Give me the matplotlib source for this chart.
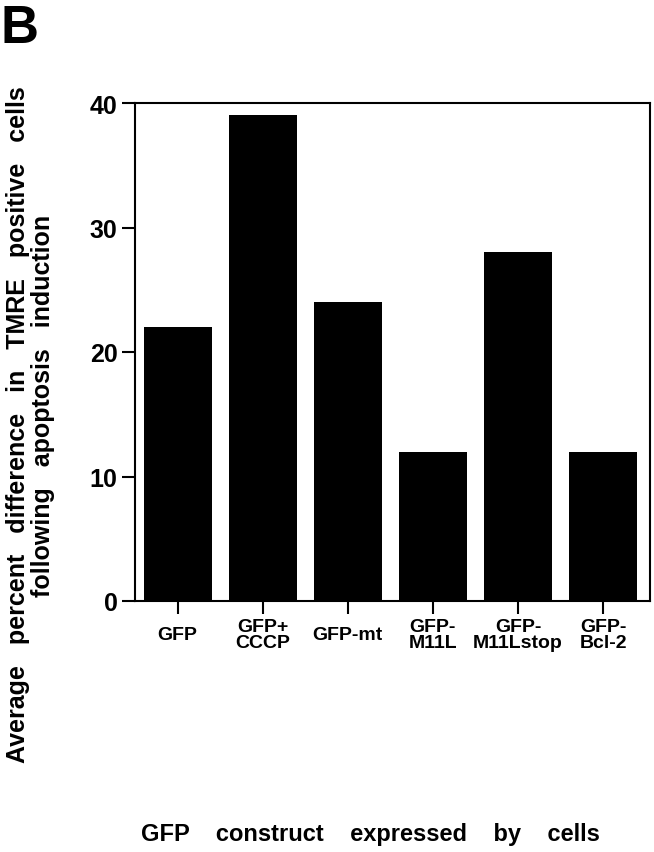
import matplotlib.pyplot as plt

plt.rcParams["font.family"] = ["Liberation Sans", "DejaVu Sans"]
plt.rcParams["font.weight"] = "bold"

constructs = ["GFP", "GFP+\nCCCP", "GFP-mt", "GFP-\nM11L", "GFP-\nM11Lstop", "GFP-\nBcl-2"]
percent_diff = [22, 39, 24, 12, 28, 12]
y_ticks = [0, 10, 20, 30, 40]

fig = plt.figure(figsize=(6.54, 8.53), dpi=100)
ax = fig.add_axes([135 / 654, 1 - 602 / 853, 515 / 654, 498 / 853])

x = range(len(constructs))
ax.bar(x, percent_diff, width=0.8, color="black")

ax.set_xlim(-0.5, 5.55)
ax.set_ylim(0, 40)
ax.set_yticks(y_ticks)
ax.set_xticks(list(x))
ax.set_xticklabels(constructs, fontsize=14, fontweight="bold", linespacing=0.95)
for label in ax.get_xticklabels():
    label.set_verticalalignment("center")
ax.tick_params(axis="x", direction="out", length=9, width=1.5, pad=15)
ax.tick_params(axis="y", direction="out", length=9.5, width=1.5, pad=3, labelsize=18)
for label in ax.get_yticklabels():
    label.set_fontweight("bold")
for spine in ax.spines.values():
    spine.set_linewidth(1.5)

# y label drawn as two separate lines so each can sit where the reference has it
fig.text(18 / 654, 1 - 425 / 853,
         "Average   percent   difference   in   TMRE   positive   cells",
         rotation=90, ha="center", va="center", fontsize=18, fontweight="bold")
fig.text(43 / 654, 1 - 406 / 853, "following   apoptosis   induction",
         rotation=90, ha="center", va="center", fontsize=18, fontweight="bold")
fig.text(370 / 654, 1 - 835 / 853, "GFP    construct    expressed    by    cells",
         ha="center", va="center", fontsize=17, fontweight="bold")
fig.text(0, 1 - 43 / 853, "B", ha="left", va="baseline", fontsize=38, fontweight="bold")

fig.savefig("out.png", dpi=100)
